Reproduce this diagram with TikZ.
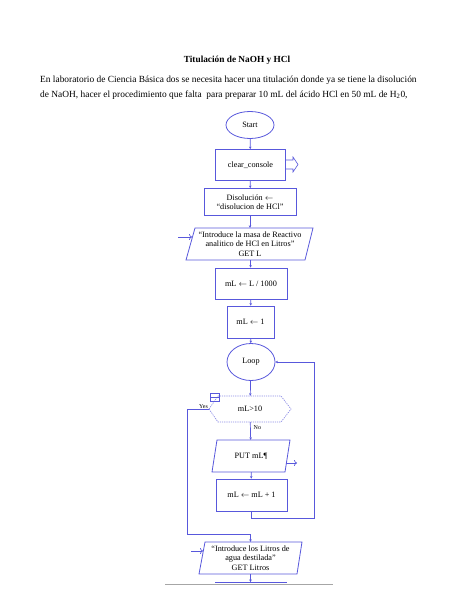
\documentclass[tikz,border=0pt]{standalone}
\usepackage{fontspec}
\setmainfont{Liberation Serif}
\usetikzlibrary{shapes.geometric,arrows.meta}
\definecolor{fc}{RGB}{88,88,220}
\definecolor{fcl}{RGB}{140,140,230}
\begin{document}
\begin{tikzpicture}[x=1pt,y=-1pt,
  txt/.style={font=\fontsize{8.2}{9.6}\selectfont, align=center, inner sep=0pt},
  boxn/.style={txt, draw=fc, line width=0.8pt, rectangle},
  ovaln/.style={txt, draw=fc, line width=0.8pt, ellipse},
  plain/.style={txt},
  conn/.style={draw=fc, line width=0.7pt, -{Stealth[length=2.5pt,width=2.5pt]}},
  seg/.style={draw=fc, line width=0.7pt},
  shp/.style={draw=fc, line width=0.8pt},
  inarrow/.style={draw=fc, line width=0.7pt, -{To[length=3pt,width=6pt]}},
  lbl/.style={font=\fontsize{6}{7}\selectfont, inner sep=0pt}]
\useasboundingbox (0,0) rectangle (474,613);
\fill[white] (0,0) rectangle (474,613);

% Title and paragraph
\node[font=\fontsize{9.3}{11}\selectfont\bfseries, inner sep=0pt] (title) at (237,60) {Titulación de NaOH y HCl};
\node[font=\fontsize{9.4}{11}\selectfont, anchor=west, inner sep=0pt] (l1) at (40,80) {En laboratorio de Ciencia Básica dos se necesita hacer una titulación donde ya se tiene la disolución};
\node[font=\fontsize{9.4}{11}\selectfont, anchor=west, inner sep=0pt] (l2) at (40,95) {de NaOH, hacer el procedimiento que falta\ \ para preparar 10 mL del ácido HCl en 50 mL de H\textsubscript{2}0,};

% Nodes
\node[ovaln, minimum width=48, minimum height=27] (start) at (250,125) {Start};
\node[boxn, minimum width=70, minimum height=31] (clr) at (250.5,165) {clear\_console};
\node[boxn, minimum width=92, minimum height=27] (dis) at (250,202) {Disolución $\leftarrow$\\``disolucion de HCl''};
\node[plain, minimum width=119, minimum height=32] (p1) at (250,244) {``Introduce la masa de Reactivo\\analitico de HCl en Litros''\\GET L};
\draw[shp] (195,228) -- (313,228) -- (305,260) -- (186,260) -- cycle;
\node[boxn, minimum width=72, minimum height=31] (div) at (251,283.5) {mL $\leftarrow$ L / 1000};
\node[boxn, minimum width=47, minimum height=32] (one) at (250.5,322) {mL $\leftarrow$ 1};
\node[ovaln, minimum width=48, minimum height=37] (loop) at (251,362) {Loop};
\node[plain, minimum width=82, minimum height=26] (dec) at (250,409) {mL>10};
\draw[draw=fcl, line width=0.7pt, dash pattern=on 1.2pt off 1pt] (209,409) -- (218,396) -- (281,396) -- (291,409) -- (281,422) -- (218,422) -- cycle;
\draw[draw=fc, line width=0.6pt] (210,393) rectangle (219,401);
\draw[draw=fc, line width=0.6pt] (210,397) -- (219,397);
\node[plain, minimum width=75, minimum height=32] (put) at (251,456) {PUT mL¶};
\draw[shp] (217,440) -- (290,440) -- (285,472) -- (212,472) -- cycle;
\node[boxn, minimum width=71, minimum height=32] (inc) at (251.5,495) {mL $\leftarrow$ mL + 1};
\node[plain, minimum width=100, minimum height=32] (p2) at (250.5,558) {``Introduce los Litros de\\agua destilada''\\GET Litros};
\draw[shp] (205,542) -- (302,542) -- (297,574) -- (199,574) -- cycle;

% next (cut) box top edge and page line
\coordinate (nxt) at (250.5,582);
\draw[shp] (215,582) -- (287,582);
\draw[draw=black!35, line width=0.6pt] (165,584) -- (333,584);

% clear_console block arrow
\draw[draw=fc, line width=0.6pt] (286,160) -- (293,160) -- (293,157) -- (298,164.5) -- (293,172) -- (293,169) -- (286,169);

% input / output arrows
\coordinate (in1) at (178,237);
\draw[inarrow] (in1) -- (192,237);
\coordinate (in2) at (191,551);
\draw[inarrow] (in2) -- (203,551);
\coordinate (out1) at (286,463);
\draw[inarrow] (out1) -- (297,463);

% Connectors
\draw[conn] (start) -- (clr);
\draw[conn] (clr) -- (dis);
\draw[conn] (dis) -- (p1);
\draw[conn] (p1) -- (div);
\draw[conn] (div) -- (one);
\draw[conn] (one) -- (loop);
\draw[conn] (loop) -- (dec);
\draw[conn] (dec) -- node[lbl, right=3pt, pos=0.3] {No} (put);
\draw[conn] (put) -- (inc);
\draw[conn] (inc.south) -- (251.5,518) -- (314,518) -- (314,362) -- (loop.east);
\coordinate (dw) at (209,409);
\draw[conn] (dw) -- node[lbl, above, pos=0.25] {Yes} (187,409) -- (187,534) -- (250.5,534) -- (p2.north);
\draw[conn] (p2) -- (nxt);
\end{tikzpicture}
\end{document}
